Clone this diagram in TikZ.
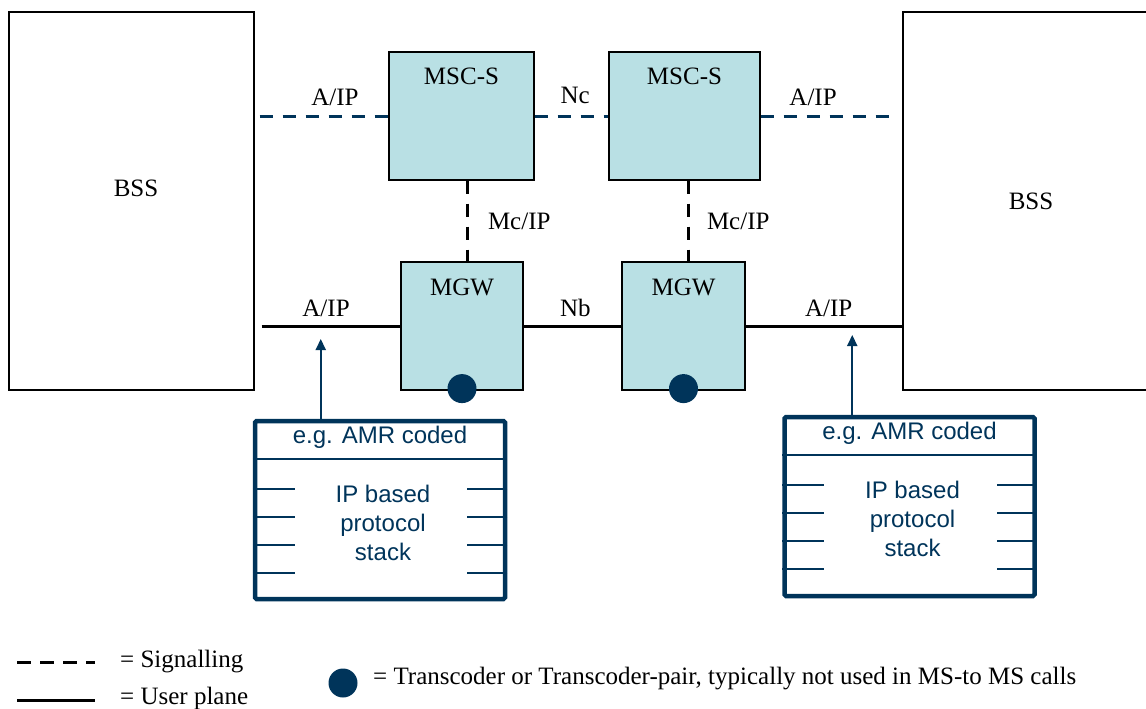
\documentclass[tikz,border=0pt]{standalone}
\usepackage{fontspec}
\setmainfont{Liberation Serif}
\setsansfont{Liberation Sans}
\usetikzlibrary{positioning,calc,arrows.meta}
\definecolor{navy}{RGB}{0,52,90}
\definecolor{paleblue}{RGB}{185,224,228}

\begin{document}
\begin{tikzpicture}[x=1pt,y=-1pt,
    box/.style={draw,line width=1.2pt,inner sep=0pt},
    bss/.style={box,minimum height=378pt},
    unit/.style={box,fill=paleblue,minimum height=128pt},
    lbl/.style={text=black,font=\fontsize{25}{27}\selectfont,inner sep=0pt},
    dot/.style={circle,fill=navy,minimum size=29pt,inner sep=0pt},
    sig/.style={line width=3pt,dash pattern=on 13pt off 10pt},
    user/.style={line width=3pt},
    stackbox/.style={draw=navy,line width=4.5pt,rounded corners=1.5pt,minimum width=250pt},
    stacktxt/.style={text=navy,font=\sffamily\fontsize{24}{29}\selectfont,align=center,inner sep=0pt},
    tick/.style={navy,line width=1.5pt},
    arr/.style={navy,line width=2pt,-{Triangle[length=11pt,width=10pt]}},
    legtxt/.style={font=\fontsize{25}{27}\selectfont,anchor=west,inner sep=0pt}
  ]
    \useasboundingbox (0,0) rectangle (1146,709);

    \node[bss,minimum width=245pt] (bssL) at (131.5,201) {};
    \node[lbl] (bssLtxt) at (136,188) {BSS};
    \node[bss,minimum width=256pt,lbl] (bssR) at (1031,201) {BSS};

    \node[unit,minimum width=145pt,label={[lbl,anchor=north,yshift=-16pt]north:MSC-S}] (mscL) at (461.5,116) {};
    \node[unit,minimum width=151pt,label={[lbl,anchor=north,yshift=-16pt]north:MSC-S}] (mscR) at (684.5,116) {};
    \node[unit,minimum width=122pt,label={[lbl,anchor=north,yshift=-17pt]north:MGW}] (mgwL) at (462,326) {};
    \node[unit,minimum width=123pt,label={[lbl,anchor=north,yshift=-17pt]north:MGW}] (mgwR) at (683.5,326) {};

    \node[dot] (tcL) at ([yshift=2pt]mgwL.south) {};
    \node[dot] (tcR) at ([yshift=2pt]mgwR.south) {};

    \draw[sig,navy,shorten <=5pt] (mscL.west -| bssL.east) -- node[lbl,pos=.6,above=9pt] {A/IP} (mscL.west);
    \draw[sig,navy] (mscL.east) -- node[lbl,pos=.55,above=11pt] {Nc} (mscR.west);
    \draw[sig,navy,shorten >=8pt] (mscR.east) -- node[lbl,pos=.37,above=9pt] {A/IP} (mscR.east -| bssR.west);
    \draw[sig] ([xshift=6pt]mscL.south) -- node[lbl,right=19pt] {Mc/IP} ([xshift=6pt]mscL.south |- mgwL.north);
    \draw[sig] ([xshift=4pt]mscR.south) -- node[lbl,right=17pt] {Mc/IP} ([xshift=4pt]mscR.south |- mgwR.north);

    \draw[user,shorten <=7pt] (mgwL.west -| bssL.east) -- node[lbl,pos=.49,above=8pt] {A/IP} (mgwL.west);
    \draw[user] (mgwL.east) -- node[lbl,pos=.53,above=8pt] {Nb} (mgwR.west);
    \draw[user] (mgwR.east) -- node[lbl,pos=.53,above=8pt] {A/IP} (mgwR.east -| bssR.west);

    \node[stackbox,minimum height=178pt] (stackL) at (380,510) {};
    \node[stackbox,minimum height=179pt] (stackR) at (909.5,506.5) {};
    \foreach \s in {stackL,stackR} {
      \draw[tick,line width=2pt] ($(\s.north west)+(0,40)$) -- ($(\s.north east)+(0,40)$);
      \node[stacktxt] (\s head) at ($(\s.north)+(0,19)$) {e.g. AMR coded};
      \node[stacktxt] (\s body) at ($(\s.north)+(3,104)$) {IP based\\protocol\\stack};
      \foreach \d in {70,98,126,154} {
        \draw[tick] ($(\s.north west)+(0,\d)$) -- ++(42,0);
        \draw[tick] ($(\s.north east)+(0,\d)$) -- ++(-40,0);
      }
    }
    \draw[arr] ([xshift=68pt]stackL.north west) -- ([xshift=68pt,yshift=-13pt]stackL.north west |- mgwL.west);
    \draw[arr] ([xshift=70pt]stackR.north west) -- ([xshift=70pt,yshift=-9pt]stackR.north west |- mgwR.west);

    \coordinate (sigA) at (17,662);
    \coordinate (sigB) at (95,662);
    \coordinate (upA) at (17,700);
    \coordinate (upB) at (95,700);
    \draw[sig,dash pattern=on 14pt off 9pt] (sigA) -- (sigB);
    \draw[user] (upA) -- (upB);
    \node[legtxt] (sigtxt) at (120,662) {= Signalling};
    \node[legtxt] (uptxt) at (120,698) {= User plane};
    \node[dot] (tcleg) at (343,683) {};
    \node[legtxt] (tctxt) at (373,679) {= Transcoder or Transcoder-pair, typically not used in MS-to MS calls};
\end{tikzpicture}
\end{document}
